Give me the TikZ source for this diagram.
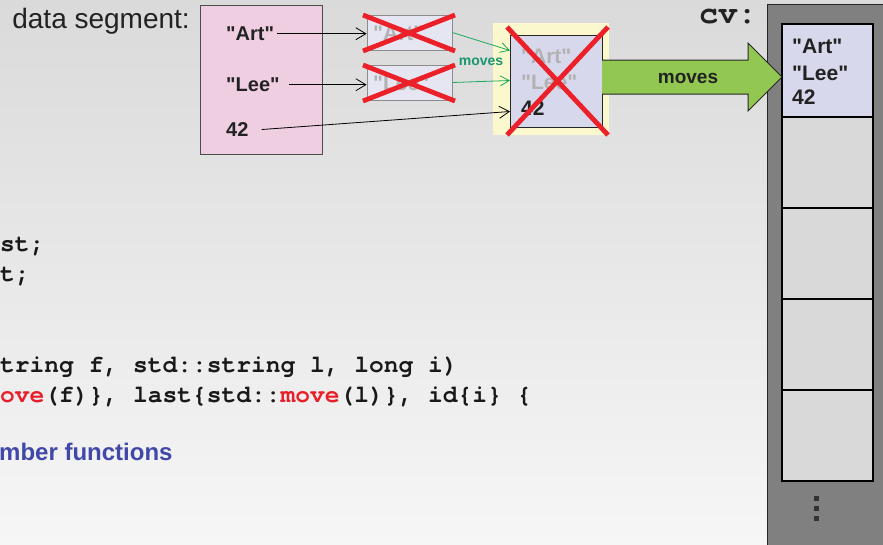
\documentclass[tikz,border=0pt]{standalone}
\usepackage{fontspec}
\setmainfont{Liberation Sans}[Ligatures=TeXOff]
\newfontfamily\codefont{TeX Gyre Cursor}
\usetikzlibrary{arrows.meta}
\definecolor{bgtop}{RGB}{218,218,218}
\definecolor{bgbot}{RGB}{246,246,246}
\definecolor{segpink}{RGB}{240,206,226}
\definecolor{lavlight}{RGB}{230,230,242}
\definecolor{lavbox}{RGB}{216,216,236}
\definecolor{hlyellow}{RGB}{252,248,206}
\definecolor{cellgray}{RGB}{217,217,217}
\definecolor{colgray}{RGB}{128,128,128}
\definecolor{arrowgreen}{RGB}{146,200,82}
\definecolor{linegreen}{RGB}{24,170,90}
\definecolor{movegreen}{RGB}{26,150,110}
\definecolor{xred}{RGB}{236,32,40}
\definecolor{codered}{RGB}{232,30,40}
\definecolor{headblue}{RGB}{64,72,168}
\definecolor{ghostgray}{RGB}{178,178,178}
\definecolor{ink}{RGB}{34,34,34}
\tikzset{
  lbl/.style={font=\fontsize{20}{24}\selectfont\bfseries, text=ink, inner sep=0pt, anchor=base west},
  lblb/.style={font=\fontsize{21}{25}\selectfont\bfseries, text=ink, inner sep=0pt, anchor=base west},
  ghost/.style={lblb, text=ghostgray},
  smallbox/.style={draw=black!45, line width=0.8pt, fill=lavlight, minimum width=85pt, minimum height=35pt, inner sep=0pt},
  redx/.style={draw=xred, line width=4.8pt},
  ptr/.style={draw=black, line width=0.8pt, -{Straight Barb[length=10pt,width=12pt]}},
  gptr/.style={draw=linegreen, line width=0.8pt, -{Straight Barb[length=9pt,width=10pt]}},
  cell/.style={draw=black, line width=1.1pt, fill=cellgray, minimum width=91pt, minimum height=91pt, anchor=north west, outer sep=0pt, inner sep=0pt},
  code/.style={font=\codefont\bfseries\fontsize{24.6}{28}\selectfont, text=black!90, inner sep=0pt, anchor=base west},
}
\begin{document}
\begin{tikzpicture}[x=1pt,y=-1pt]
\useasboundingbox (0,0) rectangle (883,544);
\clip (0,0) rectangle (883,544);
\shade[top color=bgtop,bottom color=bgbot] (0,0) rectangle (883,544);

% data segment
\node[font=\fontsize{28}{32}\selectfont, text=ink, inner sep=0pt, anchor=base east] (ds) at (190,28) {data segment:};
\node[draw=black!70, fill=segpink, line width=0.8pt, minimum width=122pt, minimum height=149pt, anchor=north west, inner sep=0pt] (seg) at (200,5) {};
\node[lbl] (a1) at (226,40.5) {"Art"};
\node[lbl] (l1) at (226,91.5) {"Lee"};
\node[lbl] (n42) at (226,136.5) {42};

% moved-from temporaries
\node[smallbox] (sm1) at (409.5,32.5) {};
\node[smallbox] (sm2) at (409.5,82.5) {};
\node[ghost] (ga1) at (373,40) {"Art"};
\node[ghost] (gl1) at (373,90) {"Lee"};
\draw[redx] (363,15) -- (455,51) (363,51) -- (455,15);
\draw[redx] (363,65) -- (455,101) (363,101) -- (455,65);

% temporary object
\node[fill=hlyellow, minimum width=116pt, minimum height=112pt, anchor=north west, inner sep=0pt] (hl) at (493,23) {};
\node[draw=black!85, line width=1pt, fill=lavbox, minimum width=92pt, minimum height=92pt, anchor=north west, inner sep=0pt] (bx) at (510,35) {};
\node[ghost] (ba) at (521,63) {"Art"};
\node[ghost] (bl) at (521,89) {"Lee"};
\node[lblb] (b42) at (521,115) {42};
\draw[redx] (507,27) -- (608,135) (507,135) -- (608,27);

% pointers
\draw[ptr] ([xshift=3pt]a1.east) -- (a1.east -| sm1.west);
\draw[ptr] ([xshift=9pt]l1.east) -- (l1.east -| sm2.west);
\draw[ptr] ([xshift=13pt]n42.east) -- ([yshift=-30pt]bx.west);
\draw[gptr] (sm1.east) -- ([yshift=31pt]bx.west);
\draw[gptr] (sm2.east) -- ([yshift=1pt]bx.west);
\node[font=\fontsize{14}{16}\selectfont\bfseries, text=movegreen, inner sep=0pt, anchor=base] (mvs) at (481,65) {moves};

% vector column
\node[draw=black!85, line width=1pt, fill=colgray, minimum width=140pt, minimum height=560pt, anchor=north west, inner sep=0pt] (col) at (767,4.3) {};
\node[cell, fill=lavbox, minimum height=93pt] (c1) at (782,24) {};
\node[cell] (c2) at (c1.south west) {};
\node[cell] (c3) at (c2.south west) {};
\node[cell] (c4) at (c3.south west) {};
\node[cell] (c5) at (c4.south west) {};
\node[lblb] (ca) at (792,53.3) {"Art"};
\node[lblb] (cl) at (792,80) {"Lee"};
\node[lblb] (c42) at (792,104) {42};
\fill[black!80] (813.5,495.5) rectangle (818.5,500.5);
\fill[black!80] (813.5,505.5) rectangle (818.5,510.5);
\fill[black!80] (813.5,515.5) rectangle (818.5,520.5);
\node[font=\codefont\bfseries\fontsize{32}{36}\selectfont, text=ink, inner sep=0pt, text height=16pt, text depth=0pt, anchor=base west] (cv) at (699,23) {cv:};

% big move arrow
\filldraw[fill=arrowgreen, draw=black!85, line width=1pt] (602,60) -- (748,60) -- (748,43) -- (782,77) -- (748,111) -- (748,94) -- (602,94);
\node[font=\fontsize{19}{22}\selectfont\bfseries, text=ink, inner sep=0pt, anchor=base] (mvt) at (688,83) {moves};

% code
\node[code] (k1) at (0,251) {st;};
\node[code] (k2) at (0,281) {t;};
\node[code] (k3) at (0,372) {tring f, std::string l, long i)};
\node[code] (k4) at (0,402) {\textcolor{codered}{ove}(f)\}, last\{std::\textcolor{codered}{move}(l)\}, id\{i\} \{};
\node[font=\fontsize{24}{28}\selectfont\bfseries, text=headblue, inner sep=0pt, anchor=base west] (mf) at (-1,460) {mber functions};
\end{tikzpicture}
\end{document}
